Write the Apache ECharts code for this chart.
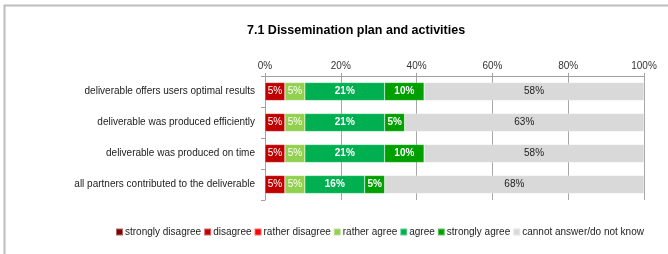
<!DOCTYPE html>
<html><head><meta charset="utf-8">
<script src="https://cdn.jsdelivr.net/npm/echarts@6/dist/echarts.min.js"></script>
<style>html,body{margin:0;padding:0;background:#fff}#c{width:668px;height:254px}</style>
</head><body><div id="c"></div>
<script>
const categories = [
  "deliverable offers users optimal results",
  "deliverable was produced efficiently",
  "deliverable was produced on time",
  "all partners contributed to the deliverable"
];
const seriesNames = ["strongly disagree","disagree","rather disagree","rather agree","agree","strongly agree","cannot answer/do not know"];
const seriesColors = ["#7f0000","#c00000","#ff0000","#92d050","#00b050","#00a000","#d9d9d9"];
const stronglyDisagree = [0,0,0,0];
const disagree = [5.26,5.26,5.26,5.26];
const ratherDisagree = [0,0,0,0];
const ratherAgree = [5.26,5.26,5.26,5.26];
const agree = [21.05,21.05,21.05,15.79];
const stronglyAgree = [10.4,5.26,10.4,5.26];
const cannotAnswer = [58.03,63.17,58.03,68.43];
const tickLabels = ["0%","20%","40%","60%","80%","100%"];
const values = [stronglyDisagree,disagree,ratherDisagree,ratherAgree,agree,stronglyAgree,cannotAnswer];

const FONT = "Liberation Sans";
const chart = echarts.init(document.getElementById('c'), null, {renderer:'canvas'});
chart.setOption({
  animation:false,
  textStyle:{fontFamily:FONT},
  title:{text:"7.1 Dissemination plan and activities",left:242,top:19,
    textStyle:{fontFamily:FONT,fontSize:12.5,fontWeight:'bold',color:'#000'}},
  graphic:[{type:'rect',shape:{x:4.5,y:5.5,width:800,height:400},style:{fill:null,stroke:'#bdbdbd',lineWidth:2},silent:true}],
  legend:{top:222,left:110,itemWidth:7,itemHeight:7,itemGap:2,icon:'rect',
    textStyle:{fontFamily:FONT,fontSize:10,color:'#222',padding:[0,0,0,-3]},data:seriesNames},
  grid:{left:265,right:24,top:76,height:124,containLabel:false},
  xAxis:{type:'value',position:'top',min:0,max:100,interval:20,
    axisLine:{show:true,lineStyle:{color:'#a0a0a0'}},
    axisTick:{show:true,inside:false,length:3,lineStyle:{color:'#a0a0a0'}},
    axisLabel:{formatter:(v)=>tickLabels[Math.round(v/20)],fontFamily:FONT,fontSize:10,color:'#333',margin:5},
    splitLine:{show:true,lineStyle:{color:'#a6a6a6',width:1}}},
  yAxis:{type:'category',inverse:true,data:categories,
    axisLine:{show:true,lineStyle:{color:'#a0a0a0'}},
    axisTick:{show:true,length:4,lineStyle:{color:'#a0a0a0'}},
    axisLabel:{fontFamily:FONT,fontSize:10,color:'#222',margin:10}},
  series: seriesNames.map((n,i)=>({
    name:n,type:'bar',stack:'s',barWidth:18,
    itemStyle:{color:seriesColors[i],borderColor:'rgba(255,255,255,0.4)',borderWidth:0.5},
    data:values[i],
    label:{show:true,position:'inside',fontFamily:FONT,fontSize:10,
      color:i===6?'#222':'#fff',fontWeight:(i===4||i===5)?'bold':'normal',
      formatter:(p)=>p.value>0?Math.round(p.value)+'%':''}
  }))
});
</script></body></html>
